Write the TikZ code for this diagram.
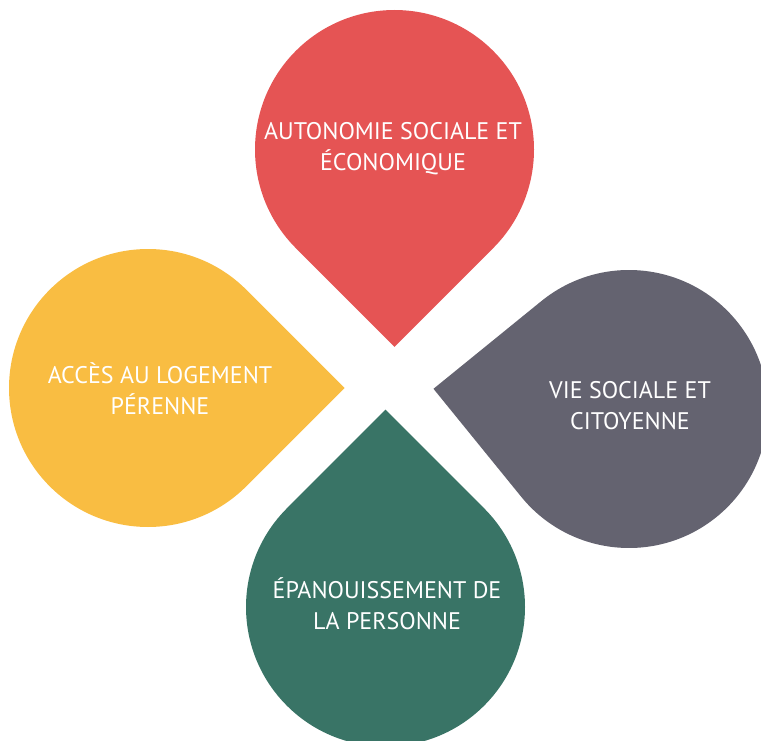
\documentclass[tikz,border=0pt]{standalone}
\usepackage{fontspec}
\setmainfont{PT Sans}
\usetikzlibrary{calc}
\definecolor{cred}{HTML}{E55454}
\definecolor{cyellow}{HTML}{F9BD42}
\definecolor{cgray}{HTML}{646370}
\definecolor{cgreen}{HTML}{397466}
\newcommand\dropshape[5]{%
  \fill[#5] ($(#1,#2)+(#4:{#3*1.41421})$) -- ($(#1,#2)+({#4+45}:#3)$)
    arc[start angle={#4+45}, delta angle=270, radius=#3] -- cycle;}
\tikzset{lbl/.style={text=white, align=center, inner sep=0pt,
  font=\fontsize{24}{31}\selectfont}}
\begin{document}
\begin{tikzpicture}[x=1pt,y=-1pt]
\useasboundingbox (0,0) rectangle (761,741);
\begin{scope}
\clip (0,0) rectangle (761,741);
\dropshape{394.5}{149.5}{139.5}{90}{cred}
\dropshape{148}{388}{139}{0}{cyellow}
\dropshape{629}{409}{139}{185.9}{cgray}
\dropshape{385.5}{607}{139.5}{270}{cgreen}
\end{scope}
\node[lbl] (autonomie) at (393,149) {AUTONOMIE SOCIALE ET\\ÉCONOMIQUE};
\node[lbl] (logement) at (160,389) {ACCÈS AU LOGEMENT\\PÉRENNE};
\node[lbl] (vie) at (630,406) {VIE SOCIALE ET\\CITOYENNE};
\node[lbl] (epanouissement) at (387,604) {ÉPANOUISSEMENT DE\\LA PERSONNE};
\end{tikzpicture}
\end{document}
